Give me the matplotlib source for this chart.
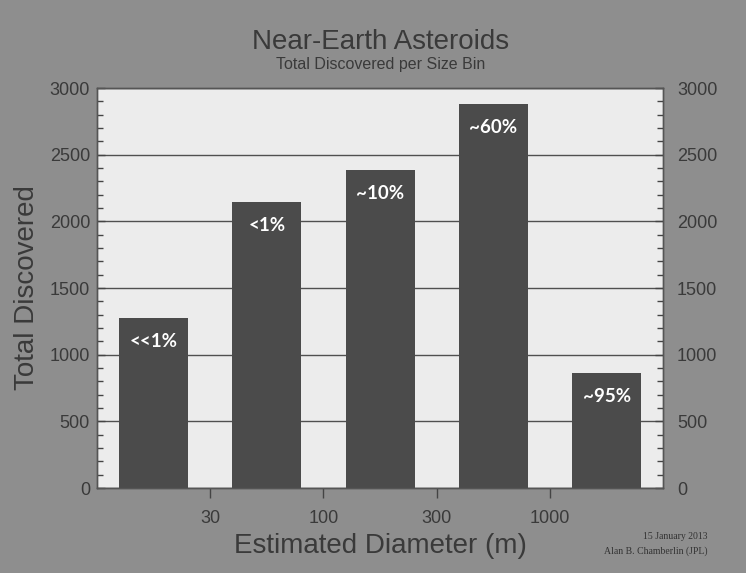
import numpy as np
import matplotlib
matplotlib.use("Agg")
import matplotlib.pyplot as plt
from matplotlib.ticker import MultipleLocator

# ── data ──────────────────────────────────────────────────────────────────────
bin_edges    = ["30", "100", "300", "1000"]          # diameter boundaries (m)
counts       = [1275, 2145, 2385, 2880, 862]          # total discovered per bin
completeness = ["<<1%", "<1%", "~10%", "~60%", "~95%"]
y_ticks      = [0, 500, 1000, 1500, 2000, 2500, 3000]

BG      = "#8e8e8e"
PLOT_BG = "#ececec"
BAR     = "#4b4b4b"
TXT     = "#3a3a3a"

plt.rcParams["font.family"] = ["Liberation Sans", "DejaVu Sans"]

fig = plt.figure(figsize=(7.46, 5.73), dpi=100, facecolor=BG)
ax = fig.add_axes([0.130, 0.1483, 0.759, 0.698])
ax.set_facecolor(PLOT_BG)

x = np.arange(len(counts))
ax.bar(x, counts, width=0.61, color=BAR, zorder=3)

for xi, c, lab in zip(x, counts, completeness):
    ax.annotate(lab, (xi, c), xytext=(0, -17), textcoords="offset points",
                ha="center", va="center", color="white", fontsize=13.5,
                fontweight="bold", family=["Lato", "DejaVu Sans"], zorder=4)

ax.set_xlim(-0.5, len(counts) - 0.5)
ax.set_ylim(0, 3000)
ax.set_yticks(y_ticks)
ax.yaxis.set_minor_locator(MultipleLocator(100))
ax.grid(axis="y", color="#505050", linewidth=1.0, zorder=1)

ax.set_xticks(np.arange(len(bin_edges)) + 0.5)
ax.set_xticklabels(bin_edges)
ax.tick_params(axis="x", direction="out", length=7, width=1, color="#444",
               labelsize=13, labelcolor=TXT, pad=9)
ax.tick_params(axis="y", which="major", direction="in", length=6, width=1,
               color="#444", labelsize=13, labelcolor=TXT, pad=5)
ax.tick_params(axis="y", which="minor", direction="in", length=4, width=1,
               color="#444")

ax2 = ax.twinx()
ax2.set_ylim(0, 3000)
ax2.set_yticks(y_ticks)
ax2.yaxis.set_minor_locator(MultipleLocator(100))
ax2.tick_params(axis="y", which="major", direction="in", length=6, width=1,
                color="#444", labelsize=13, labelcolor=TXT, pad=10)
ax2.tick_params(axis="y", which="minor", direction="in", length=4, width=1,
                color="#444")

for a in (ax, ax2):
    for s in a.spines.values():
        s.set_color("#555")
        s.set_linewidth(1)

ax.set_xlabel("Estimated Diameter (m)", fontsize=20, color=TXT, labelpad=4)
ax.set_ylabel("Total Discovered", fontsize=20, color=TXT, labelpad=7)

fig.text(0.51, 0.927, "Near-Earth Asteroids", ha="center", va="center",
         fontsize=20, color=TXT)
fig.text(0.51, 0.888, "Total Discovered per Size Bin", ha="center", va="center",
         fontsize=11.5, color=TXT)

fig.text(0.948, 0.064, "15 January 2013", ha="right", va="center",
         fontsize=7, color="#333", family=["Liberation Serif", "DejaVu Serif"])
fig.text(0.948, 0.038, "Alan B. Chamberlin (JPL)", ha="right", va="center",
         fontsize=7, color="#333", family=["Liberation Serif", "DejaVu Serif"])

fig.savefig("out.png", dpi=100, facecolor=BG)
